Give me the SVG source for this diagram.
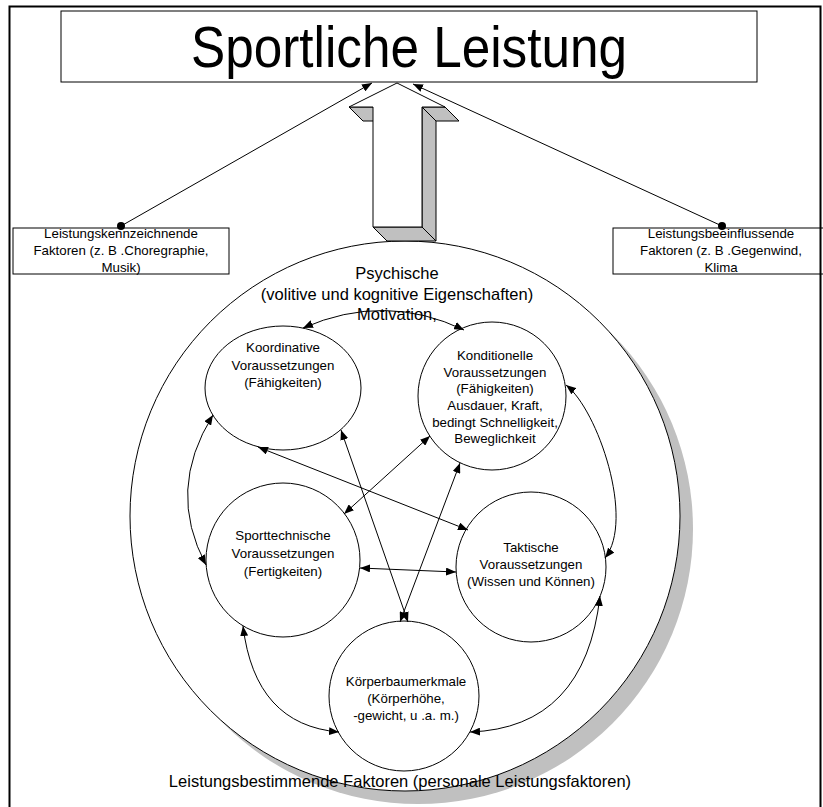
<svg xmlns="http://www.w3.org/2000/svg" width="823" height="807" viewBox="0 0 823 807">
<defs>
<marker id="ah" viewBox="0 0 10 8" refX="10" refY="4" markerWidth="10" markerHeight="8" markerUnits="userSpaceOnUse" orient="auto-start-reverse">
<path d="M0,0 L10,4 L0,8 z" fill="#000"/>
</marker>
<marker id="dot" viewBox="0 0 8 8" refX="4" refY="4" markerWidth="8" markerHeight="8" markerUnits="userSpaceOnUse">
<circle cx="4" cy="4" r="4" fill="#000"/>
</marker>
<style>
text{font-family:"Liberation Sans",Arial,sans-serif;fill:#000;text-anchor:middle}
.s{font-size:13.3px}
.m{font-size:16.5px}
.box{fill:#fff;stroke:#000;stroke-width:1}
.node{fill:#fff;stroke:#000;stroke-width:1}
.con{fill:none;stroke:#000;stroke-width:1;marker-start:url(#ah);marker-end:url(#ah)}
.gray{fill:#c0c0c0;stroke:#000;stroke-width:1;stroke-linejoin:round}
</style>
</defs>
<rect width="823" height="807" fill="#fff"/>

<g id="title">
<rect class="box" x="61" y="11" width="696" height="71"/>
<text x="409" y="67" font-size="57" textLength="436" lengthAdjust="spacingAndGlyphs">Sportliche Leistung</text>
</g>

<g id="big-circle">
<circle cx="418" cy="529" r="275" fill="#c0c0c0"/>
<circle cx="405" cy="516" r="275" fill="#fff" stroke="#000" stroke-width="1"/>
<text class="m" x="397" y="279">Psychische</text>
<text class="m" x="397" y="299.5">(volitive und kognitive Eigenschaften)</text>
<text class="m" x="397" y="320">Motivation,</text>
<text class="m" x="400" y="787">Leistungsbestimmende Faktoren (personale Leistungsfaktoren)</text>
</g>

<g id="box-left">
<rect class="box" x="13" y="228" width="216" height="46"/>
<text class="s" x="121" y="238">Leistungskennzeichnende</text>
<text class="s" x="121" y="255">Faktoren (z. B .Choregraphie,</text>
<text class="s" x="121" y="272">Musik)</text>
</g>

<g id="box-right">
<rect class="box" x="613" y="228" width="216" height="46"/>
<text class="s" x="721" y="238">Leistungsbeeinflussende</text>
<text class="s" x="721" y="255">Faktoren (z. B .Gegenwind,</text>
<text class="s" x="721" y="272">Klima</text>
</g>

<path d="M9.5,807 V6.5 H820.5 V807" fill="none" stroke="#000" stroke-width="2"/>

<g id="koordinative">
<ellipse class="node" cx="283" cy="388" rx="78" ry="62"/>
<text class="s" x="283" y="352">Koordinative</text>
<text class="s" x="283" y="370">Voraussetzungen</text>
<text class="s" x="283" y="387">(Fähigkeiten)</text>
</g>

<g id="konditionelle">
<circle class="node" cx="492" cy="396" r="74"/>
<text class="s" x="495" y="360">Konditionelle</text>
<text class="s" x="495" y="377">Voraussetzungen</text>
<text class="s" x="495" y="393">(Fähigkeiten)</text>
<text class="s" x="495" y="410">Ausdauer, Kraft,</text>
<text class="s" x="495" y="427">bedingt Schnelligkeit,</text>
<text class="s" x="495" y="443">Beweglichkeit</text>
</g>

<g id="sporttechnische">
<circle class="node" cx="283" cy="560" r="77"/>
<text class="s" x="283" y="540">Sporttechnische</text>
<text class="s" x="283" y="558">Voraussetzungen</text>
<text class="s" x="283" y="576">(Fertigkeiten)</text>
</g>

<g id="taktische">
<circle class="node" cx="531" cy="567" r="75"/>
<text class="s" x="531" y="552">Taktische</text>
<text class="s" x="531" y="569">Voraussetzungen</text>
<text class="s" x="531" y="586">(Wissen und Können)</text>
</g>

<g id="koerperbau">
<circle class="node" cx="404" cy="696" r="75"/>
<text class="s" x="406" y="686">Körperbaumerkmale</text>
<text class="s" x="406" y="703">(Körperhöhe,</text>
<text class="s" x="406" y="720">-gewicht, u .a. m.)</text>
</g>

<g id="connectors">
<path d="M121,226 L372,83" fill="none" stroke="#000" marker-start="url(#dot)" marker-end="url(#ah)"/>
<path d="M722,226 L413,84" fill="none" stroke="#000" marker-start="url(#dot)" marker-end="url(#ah)"/>
<path class="con" d="M303,328 Q385,292 464,330"/>
<path class="con" d="M213,415 Q166,490 206,565"/>
<path class="con" d="M566,385 C598,410 635,520 605,558"/>
<path class="con" d="M258,447 L468,530"/>
<path class="con" d="M341,430 L408,622"/>
<path class="con" d="M430,436 L344,514"/>
<path class="con" d="M460,463 L400,622"/>
<path class="con" d="M360,568 L456,572"/>
<path class="con" d="M243,626 Q255,725 339,732"/>
<path class="con" d="M600,596 Q585,728 470,732"/>
</g>

<g id="block-arrow">
<polygon class="gray" points="349,107 373,107 387,121 363,121"/>
<polygon class="gray" points="422,107 445,107 459,121 436,121"/>
<polygon class="gray" points="422,107 436,121 436,241 422,227"/>
<polygon class="gray" points="373,227 422,227 436,241 387,241"/>
<polygon points="397,83 445,107 422,107 422,227 373,227 373,107 349,107" fill="#fff" stroke="#000" stroke-width="1" stroke-linejoin="miter"/>
</g>
</svg>
